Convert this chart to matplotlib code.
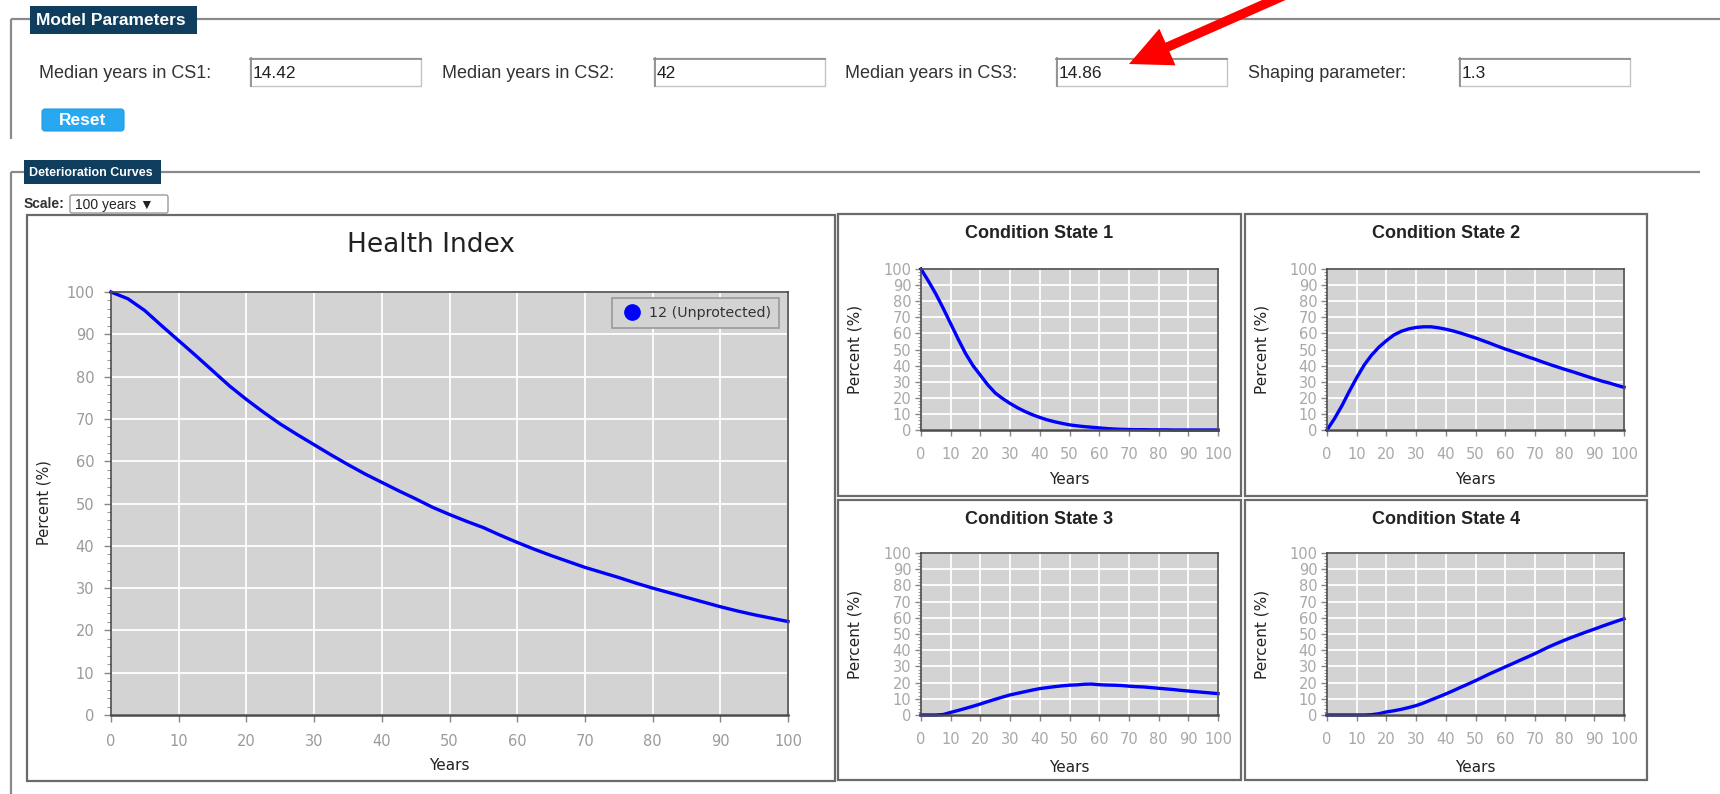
import matplotlib
matplotlib.use("Agg")
import matplotlib.pyplot as plt
from matplotlib.patches import Rectangle, FancyArrow, FancyBboxPatch
from matplotlib.lines import Line2D
from matplotlib.ticker import MultipleLocator

W, H = 1720, 794

# ---------------- data (every 2.5 years) ----------------
years = [0, 2.5, 5, 7.5, 10, 12.5, 15, 17.5, 20, 22.5, 25, 27.5, 30, 32.5, 35, 37.5, 40,
         42.5, 45, 47.5, 50, 52.5, 55, 57.5, 60, 62.5, 65, 67.5, 70, 72.5, 75, 77.5, 80,
         82.5, 85, 87.5, 90, 92.5, 95, 97.5, 100]
health_index = [100, 98.4, 95.6, 92, 88.5, 85, 81.4, 77.8, 74.6, 71.6, 68.8, 66.3, 63.9,
                61.5, 59.2, 57, 55, 53, 51.1, 49.1, 47.4, 45.8, 44.3, 42.5, 40.8, 39.2, 37.7,
                36.3, 34.9, 33.7, 32.5, 31.2, 30, 28.9, 27.8, 26.7, 25.6, 24.6, 23.7, 22.9, 22.1]
cs1 = [100, 92.5, 84.5, 75.5, 66, 56.5, 47.5, 40, 34, 28, 23, 19.5, 16.5, 13.8, 11.5, 9.5,
       7.8, 6.3, 5.1, 4.1, 3.2, 2.6, 2.1, 1.7, 1.3, 0.9, 0.6, 0.4, 0.3, 0.2, 0.2, 0.1, 0.1,
       0.1, 0, 0, 0, 0, 0, 0, 0]
cs2 = [0, 7, 15, 24, 32.5, 40.3, 46.5, 51.5, 55.5, 59, 61.3, 62.8, 63.7, 64.1, 64.1, 63.5,
       62.6, 61.5, 60.2, 58.7, 57.2, 55.5, 53.8, 52, 50.3, 48.8, 47.2, 45.5, 44, 42.3, 40.7,
       39.2, 37.7, 36.3, 34.8, 33.3, 31.8, 30.4, 29.2, 27.8, 26.5]
cs3 = [0, 0, 0, 0.3, 1.6, 2.8, 4.1, 5.4, 6.8, 8.3, 9.7, 11.1, 12.4, 13.4, 14.4, 15.4, 16.3,
       16.9, 17.5, 18, 18.4, 18.6, 19, 19.1, 18.7, 18.5, 18.4, 18.2, 17.8, 17.5, 17.3, 16.9,
       16.5, 16.1, 15.7, 15.2, 14.8, 14.4, 14, 13.6, 13.2]
cs4 = [0, 0, 0, 0, 0, 0, 0.2, 0.8, 1.9, 2.6, 3.5, 4.6, 5.8, 7.4, 9.3, 11.1, 13, 15, 17.1,
       19.1, 21.2, 23.4, 25.6, 27.6, 29.7, 31.7, 33.8, 35.8, 37.9, 40.1, 42.3, 44.3, 46.2,
       48, 49.7, 51.4, 53, 54.7, 56.3, 57.9, 59.4]

series_name = "12 (Unprotected)"
param_labels = ["Median years in CS1:", "Median years in CS2:", "Median years in CS3:", "Shaping parameter:"]
param_values = ["14.42", "42", "14.86", "1.3"]
panel_titles = ["Condition State 1", "Condition State 2", "Condition State 3", "Condition State 4"]
x_ticks = list(range(0, 101, 10))
y_ticks = list(range(0, 101, 10))

# ---------------- figure + overlay in pixel coordinates ----------------
fig = plt.figure(figsize=(W / 100, H / 100), dpi=100)
fig.patch.set_facecolor("white")
ov = fig.add_axes([0, 0, 1, 1])
ov.set_xlim(0, W)
ov.set_ylim(H, 0)
ov.axis("off")

UI = ["Liberation Sans", "DejaVu Sans"]
NAVY = "#0e3d5d"
LINE = "#8a8a8a"


def frac(x0, y0, x1, y1):
    return [x0 / W, 1 - y1 / H, (x1 - x0) / W, (y1 - y0) / H]


# Model Parameters fieldset
ov.plot([11, W], [19, 19], color=LINE, lw=1.6, solid_capstyle="butt", zorder=1)
ov.plot([11, 11], [19, 139], color=LINE, lw=1.6, solid_capstyle="butt", zorder=1)
ov.add_patch(Rectangle((30, 6), 167, 28, fc=NAVY, ec="none", zorder=3))
ov.text(36, 20.5, "Model Parameters", color="white", fontsize=12.5, fontweight="bold",
        family=UI, va="center", ha="left", zorder=4)

label_x = [39, 442, 845, 1248]
box_x = [250, 654, 1056, 1459]
for lx, bx, lab, val in zip(label_x, box_x, param_labels, param_values):
    ov.text(lx, 73, lab, fontsize=13, color="#333333", family=UI, va="center", ha="left")
    ov.add_patch(Rectangle((bx, 58), 171, 28, fc="white", ec="#c4c4c4", lw=1.0))
    ov.plot([bx, bx + 171], [58.5, 58.5], color="#8f8f8f", lw=1.3)
    ov.plot([bx + 0.5, bx + 0.5], [58, 86], color="#8f8f8f", lw=1.3)
    ov.text(bx + 3, 73, val, fontsize=12.5, color="#222222", family=UI, va="center", ha="left")

ov.add_patch(FancyBboxPatch((42, 109), 82, 22, boxstyle="round,pad=0,rounding_size=3",
                            fc="#29a8f2", ec="#1f9be3", lw=0.8))
ov.text(83, 120.5, "Reset", color="white", fontsize=12.5, fontweight="bold", family=UI,
        ha="center", va="center")

# Deterioration Curves fieldset
ov.plot([11, 1700], [172, 172], color=LINE, lw=1.6, solid_capstyle="butt", zorder=1)
ov.plot([11, 11], [172, H], color=LINE, lw=1.6, solid_capstyle="butt", zorder=1)
ov.add_patch(Rectangle((24, 160), 137, 24, fc=NAVY, ec="none", zorder=3))
ov.text(29, 172.5, "Deterioration Curves", color="white", fontsize=9, fontweight="bold",
        family=UI, va="center", ha="left", zorder=4)
ov.text(24, 204, "Scale:", fontsize=10, fontweight="bold", color="#333333", family=UI,
        va="center", ha="left")
ov.add_patch(FancyBboxPatch((70, 195), 98, 18, boxstyle="round,pad=0,rounding_size=2",
                            fc="white", ec="#9a9a9a", lw=1.0))
ov.text(75, 204.5, "100 years \u25BC", fontsize=10, color="#222222", family=UI,
        va="center", ha="left")

# panel borders
panels = [(27, 215, 835, 781), (838, 214, 1241, 496), (1245, 214, 1647, 496),
          (838, 500, 1241, 780), (1245, 500, 1647, 780)]
for (x0, y0, x1, y1) in panels:
    ov.add_patch(Rectangle((x0, y0), x1 - x0, y1 - y0, fc="white", ec="#6a6a6a", lw=1.6))

# red arrow
ov.add_patch(FancyArrow(1292, -8, 1129 - 1292, 64 + 8, width=9.5, head_width=40, head_length=42,
                        length_includes_head=True, fc="#ff0000", ec="#ff0000", lw=0, zorder=5))


# ---------------- charts ----------------
def style(ax, tick_fs, tick_color, ypad, xpad, tlen):
    ax.set_facecolor("#d3d3d3")
    ax.set_xlim(0, 100)
    ax.set_ylim(0, 100)
    ax.set_xticks(x_ticks)
    ax.set_yticks(y_ticks)
    ax.yaxis.set_minor_locator(MultipleLocator(2))
    ax.grid(True, which="major", color="white", lw=1.3)
    ax.set_axisbelow(True)
    for s in ax.spines.values():
        s.set_color("#4a4a4a")
        s.set_linewidth(1.2)
    ax.spines["bottom"].set_linewidth(1.8)
    ax.tick_params(axis="both", which="major", labelsize=tick_fs, labelcolor=tick_color,
                   color="#888888", length=tlen, width=1)
    ax.tick_params(axis="y", which="major", pad=ypad)
    ax.tick_params(axis="x", which="major", pad=xpad)
    ax.tick_params(axis="y", which="minor", length=tlen * 0.6, color="#999999", width=0.8)
    for lab in ax.get_xticklabels() + ax.get_yticklabels():
        lab.set_family("DejaVu Sans")


BLUE = "#0000ff"

# Health index
axh = fig.add_axes(frac(111, 292, 788, 715))
style(axh, 10.5, "#9a9a9a", 7, 9, 5)
axh.plot(years, health_index, color=BLUE, lw=2.4, clip_on=False, solid_joinstyle="round")
handle = Line2D([], [], marker="o", ls="", color=BLUE, ms=11)
leg = axh.legend([handle], [series_name], loc="upper right", bbox_to_anchor=(0.9867, 0.9858),
                 borderaxespad=0, frameon=True, fancybox=False, facecolor="#d3d3d3",
                 edgecolor="#9a9a9a", handletextpad=0.35, borderpad=0.55,
                 handlelength=1.7, prop={"family": "DejaVu Sans", "size": 10.3})
leg.get_frame().set_linewidth(1.2)
leg.get_frame().set_alpha(1)
for t in leg.get_texts():
    t.set_color("#333333")
ov.text(431, 245, "Health Index", fontsize=19, color="#222222", family="DejaVu Sans",
        ha="center", va="center")
ov.text(44, 503, "Percent (%)", fontsize=10.5, rotation=90, color="#222222",
        family="DejaVu Sans", ha="center", va="center")
ov.text(449, 766, "Years", fontsize=11, color="#222222", family="DejaVu Sans",
        ha="center", va="center")

# Condition states
small = [
    ((921, 269, 1218, 430), cs1, (1039, 234), 855, 480),
    ((1327, 269, 1624, 430), cs2, (1446, 234), 1262, 480),
    ((921, 553, 1218, 715), cs3, (1039, 519), 855, 767),
    ((1327, 553, 1624, 715), cs4, (1446, 519), 1262, 767),
]
for (box, vals, (tx, ty), plx, yly), title in zip(small, panel_titles):
    ax = fig.add_axes(frac(*box))
    style(ax, 10.5, "#a8a8a8", 3, 8, 4)
    ax.plot(years, vals, color=BLUE, lw=2.4, clip_on=False, solid_joinstyle="round")
    ov.text(tx, ty, title, fontsize=13, fontweight="bold", color="#222222", family=UI,
            ha="center", va="center")
    ov.text(plx, (box[1] + box[3]) / 2, "Percent (%)", fontsize=11, rotation=90,
            color="#222222", family="DejaVu Sans", ha="center", va="center")
    ov.text((box[0] + box[2]) / 2, yly, "Years", fontsize=11, color="#222222",
            family="DejaVu Sans", ha="center", va="center")

fig.savefig("out.png", dpi=100, facecolor="white")
